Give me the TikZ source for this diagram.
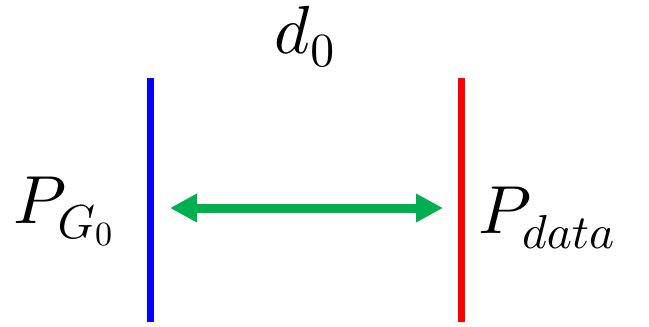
\documentclass[tikz,border=0pt]{standalone}
\usepackage{amsmath}
\usepackage{tikz}
\usetikzlibrary{arrows.meta}
\usepackage{xcolor}
% scalable math fonts
\DeclareFontShape{OML}{cmm}{m}{it}{<->cmmi10}{}
\DeclareFontShape{OT1}{cmr}{m}{n}{<->cmr10}{}
\definecolor{distgreen}{RGB}{0,176,80}
\tikzset{
  distline/.style={line width=3.5pt},
  arr/.style={{Triangle[length=13.5pt,width=13.5pt]}-{Triangle[length=13.5pt,width=13.5pt]},
    line width=4.5pt, distgreen},
  lab/.style={inner sep=0pt, font=\fontsize{34}{40}\selectfont},
}

\begin{document}
\begin{tikzpicture}[x=0.5pt, y=-0.5pt]
    \useasboundingbox (0,0) rectangle (649,327);
    \coordinate (gtop) at (150,78);
    \coordinate (gbot) at (150,322);
    \coordinate (dtop) at (461,78);
    \coordinate (dbot) at (461,322);
    \coordinate (gmid) at (150,208);
    \coordinate (dmid) at (461,208);
    \node[lab, anchor=base] (d0) at (305,53) {$d_0$};
    \node[lab, anchor=base] (pg) at (64,223) {$P_{G_0}$};
    \node[lab, anchor=base west] (pd) at (478,233) {$P_{data}$};
    \draw[distline, blue] (gtop) -- (gbot);
    \draw[distline, red] (dtop) -- (dbot);
    \draw[arr, shorten <=10pt, shorten >=9pt] (gmid) -- (dmid);
\end{tikzpicture}
\end{document}
